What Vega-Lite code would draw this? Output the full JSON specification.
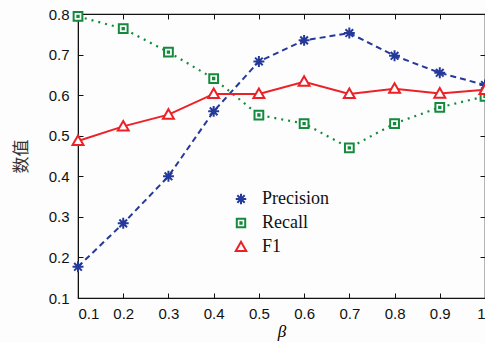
{
  "$schema": "https://vega.github.io/schema/vega-lite/v6.json",
  "autosize": "none",
  "width": 407,
  "height": 284,
  "padding": {"left": 78, "top": 14, "right": 0, "bottom": 45},
  "background": "#fdfdfd",
  "config": {
    "view": {"stroke": "#111", "strokeWidth": 1.2},
    "axis": {
      "domainColor": "#111", "tickColor": "#111", "grid": false,
      "labelFont": "Liberation Sans", "labelFontSize": 15, "labelColor": "#111",
      "tickSize": -5
    }
  },
  "data": {"values": [
    {"beta": 0.1, "metric": "Precision", "value": 0.177},
    {"beta": 0.2, "metric": "Precision", "value": 0.284},
    {"beta": 0.3, "metric": "Precision", "value": 0.400},
    {"beta": 0.4, "metric": "Precision", "value": 0.560},
    {"beta": 0.5, "metric": "Precision", "value": 0.683},
    {"beta": 0.6, "metric": "Precision", "value": 0.735},
    {"beta": 0.7, "metric": "Precision", "value": 0.753},
    {"beta": 0.8, "metric": "Precision", "value": 0.697},
    {"beta": 0.9, "metric": "Precision", "value": 0.655},
    {"beta": 1.0, "metric": "Precision", "value": 0.625},
    {"beta": 0.1, "metric": "Recall", "value": 0.794},
    {"beta": 0.2, "metric": "Recall", "value": 0.764},
    {"beta": 0.3, "metric": "Recall", "value": 0.706},
    {"beta": 0.4, "metric": "Recall", "value": 0.641},
    {"beta": 0.5, "metric": "Recall", "value": 0.551},
    {"beta": 0.6, "metric": "Recall", "value": 0.530},
    {"beta": 0.7, "metric": "Recall", "value": 0.470},
    {"beta": 0.8, "metric": "Recall", "value": 0.530},
    {"beta": 0.9, "metric": "Recall", "value": 0.570},
    {"beta": 1.0, "metric": "Recall", "value": 0.597},
    {"beta": 0.1, "metric": "F1", "value": 0.487},
    {"beta": 0.2, "metric": "F1", "value": 0.523},
    {"beta": 0.3, "metric": "F1", "value": 0.552},
    {"beta": 0.4, "metric": "F1", "value": 0.603},
    {"beta": 0.5, "metric": "F1", "value": 0.603},
    {"beta": 0.6, "metric": "F1", "value": 0.633},
    {"beta": 0.7, "metric": "F1", "value": 0.603},
    {"beta": 0.8, "metric": "F1", "value": 0.616},
    {"beta": 0.9, "metric": "F1", "value": 0.604},
    {"beta": 1.0, "metric": "F1", "value": 0.613}
  ]},
  "encoding": {
    "color": {"field": "metric", "type": "nominal",
      "scale": {"domain": ["Precision", "Recall", "F1"], "range": ["#25399a", "#138a3c", "#ec2127"]},
      "legend": {"orient": "none", "legendX": 154, "legendY": 176, "title": null,
        "labelFont": "Liberation Serif", "labelFontSize": 18, "labelColor": "#111",
        "symbolSize": 110, "symbolStrokeWidth": 2, "rowPadding": 5, "labelOffset": 12}}
  },
  "layer": [
    {
      "transform": [{"filter": "datum.metric === 'Precision'"}],
      "mark": {"type": "line", "strokeWidth": 2, "strokeDash": [6, 4]},
      "encoding": {
        "x": {"field": "beta", "type": "quantitative",
          "scale": {"domain": [0.1, 1.0], "nice": false, "zero": false},
          "axis": {"orient": "top", "values": [0.1,0.2,0.3,0.4,0.5,0.6,0.7,0.8,0.9,1], "labels": false, "title": null, "domain": false}},
        "y": {"field": "value", "type": "quantitative",
          "scale": {"domain": [0.1, 0.8], "nice": false, "zero": false},
          "axis": {"orient": "right", "values": [0.1,0.2,0.3,0.4,0.5,0.6,0.7,0.8], "labels": false, "title": null, "domain": false}}
      }
    },
    {
      "transform": [{"filter": "datum.metric === 'Recall'"}],
      "mark": {"type": "line", "strokeWidth": 2.2, "strokeDash": [2, 5]},
      "encoding": {
        "x": {"field": "beta", "type": "quantitative", "axis": null},
        "y": {"field": "value", "type": "quantitative", "axis": null}
      }
    },
    {
      "transform": [{"filter": "datum.metric === 'F1'"}],
      "mark": {"type": "line", "strokeWidth": 2},
      "encoding": {
        "x": {"field": "beta", "type": "quantitative", "axis": null},
        "y": {"field": "value", "type": "quantitative", "axis": null}
      }
    },
    {
      "mark": {"type": "point", "filled": false, "fill": "#fdfdfd", "fillOpacity": 1, "strokeWidth": 2, "size": 120},
      "encoding": {
        "x": {"field": "beta", "type": "quantitative",
          "scale": {"domain": [0.1, 1.0], "nice": false, "zero": false},
          "axis": {"orient": "bottom", "values": [0.1,0.2,0.3,0.4,0.5,0.6,0.7,0.8,0.9,1], "format": ".1~f", "title": "β", "labelPadding": 13,
            "titleFont": "Liberation Serif", "titleFontStyle": "italic", "titleFontWeight": "normal", "titleFontSize": 17, "titlePadding": 2}},
        "y": {"field": "value", "type": "quantitative",
          "scale": {"domain": [0.1, 0.8], "nice": false, "zero": false},
          "axis": {"orient": "left", "values": [0.1,0.2,0.3,0.4,0.5,0.6,0.7,0.8], "format": ".1f", "title": "数值", "labelPadding": 14,
            "titleFont": "Noto Sans CJK SC", "titleFontWeight": "normal", "titleFontSize": 17, "titleColor": "#333", "titlePadding": 18}},
        "shape": {"field": "metric", "type": "nominal",
          "scale": {"domain": ["Precision", "Recall", "F1"],
            "range": ["M-1,0L1,0M0,-1L0,1M-0.7,-0.7L0.7,0.7M-0.7,0.7L0.7,-0.7",
                      "M-0.8,-0.8H0.8V0.8H-0.8ZM-0.12,-0.12H0.12V0.12H-0.12Z",
                      "M0,-1L1,0.75H-1Z"]}}
      }
    }
  ]
}
